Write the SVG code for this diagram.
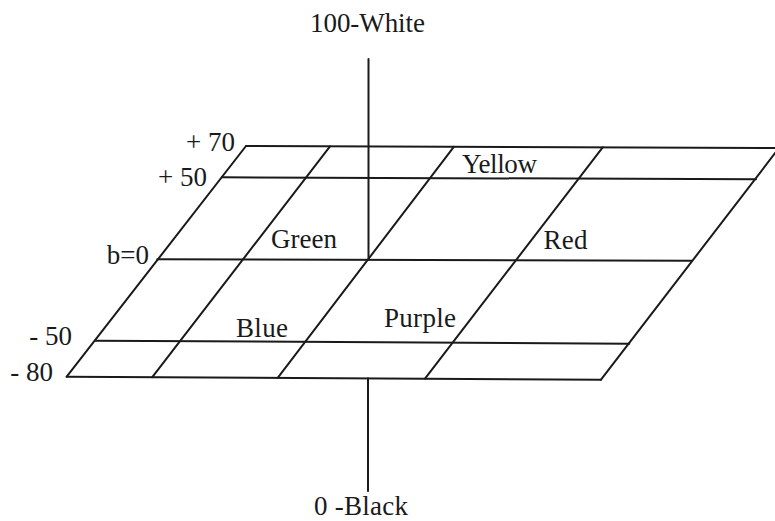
<svg xmlns="http://www.w3.org/2000/svg" width="775" height="521" viewBox="0 0 775 521">
<style>
.ln{stroke:#1a1a1a;stroke-width:2;fill:none;stroke-linecap:round}
.t{font-family:"Liberation Serif","Times New Roman",serif;font-size:27px;fill:#1a1a1a}
.e{text-anchor:end}
</style>
<rect width="775" height="521" fill="#fff"/>
<g id="grid">
<line class="ln" x1="246" y1="146" x2="779" y2="148"/>
<line class="ln" x1="221.7" y1="177.3" x2="756" y2="179.3"/>
<line class="ln" x1="157.3" y1="259.3" x2="692" y2="260.7"/>
<line class="ln" x1="95" y1="340.7" x2="629.3" y2="343.7"/>
<line class="ln" x1="66.7" y1="376.7" x2="601" y2="379.7"/>
<line class="ln" x1="246" y1="146" x2="66.7" y2="376.7"/>
<line class="ln" x1="330" y1="146.3" x2="152.3" y2="377.2"/>
<line class="ln" x1="454" y1="146.7" x2="277.7" y2="377.9"/>
<line class="ln" x1="602.7" y1="147.3" x2="425" y2="378.6"/>
<line class="ln" x1="779" y1="148" x2="601" y2="379.7"/>
</g>
<g id="axis">
<line class="ln" x1="368.5" y1="59" x2="368.5" y2="259.8"/>
<line class="ln" x1="368" y1="378.6" x2="368" y2="491"/>
</g>
<g id="labels">
<text class="t" x="310" y="32" textLength="115">100-White</text>
<text class="t" x="314" y="515" textLength="94">0 -Black</text>
<text class="t e" x="235" y="151">+ 70</text>
<text class="t e" x="207" y="186">+ 50</text>
<text class="t e" x="149" y="264">b=0</text>
<text class="t e" x="72" y="345">- 50</text>
<text class="t e" x="53" y="381">- 80</text>
<text class="t" x="271" y="248" textLength="66">Green</text>
<text class="t" x="462" y="172.5" textLength="75">Yellow</text>
<text class="t" x="543.5" y="249" textLength="44">Red</text>
<text class="t" x="236" y="336.5" textLength="52">Blue</text>
<text class="t" x="384" y="326.5" textLength="72">Purple</text>
</g>
</svg>
